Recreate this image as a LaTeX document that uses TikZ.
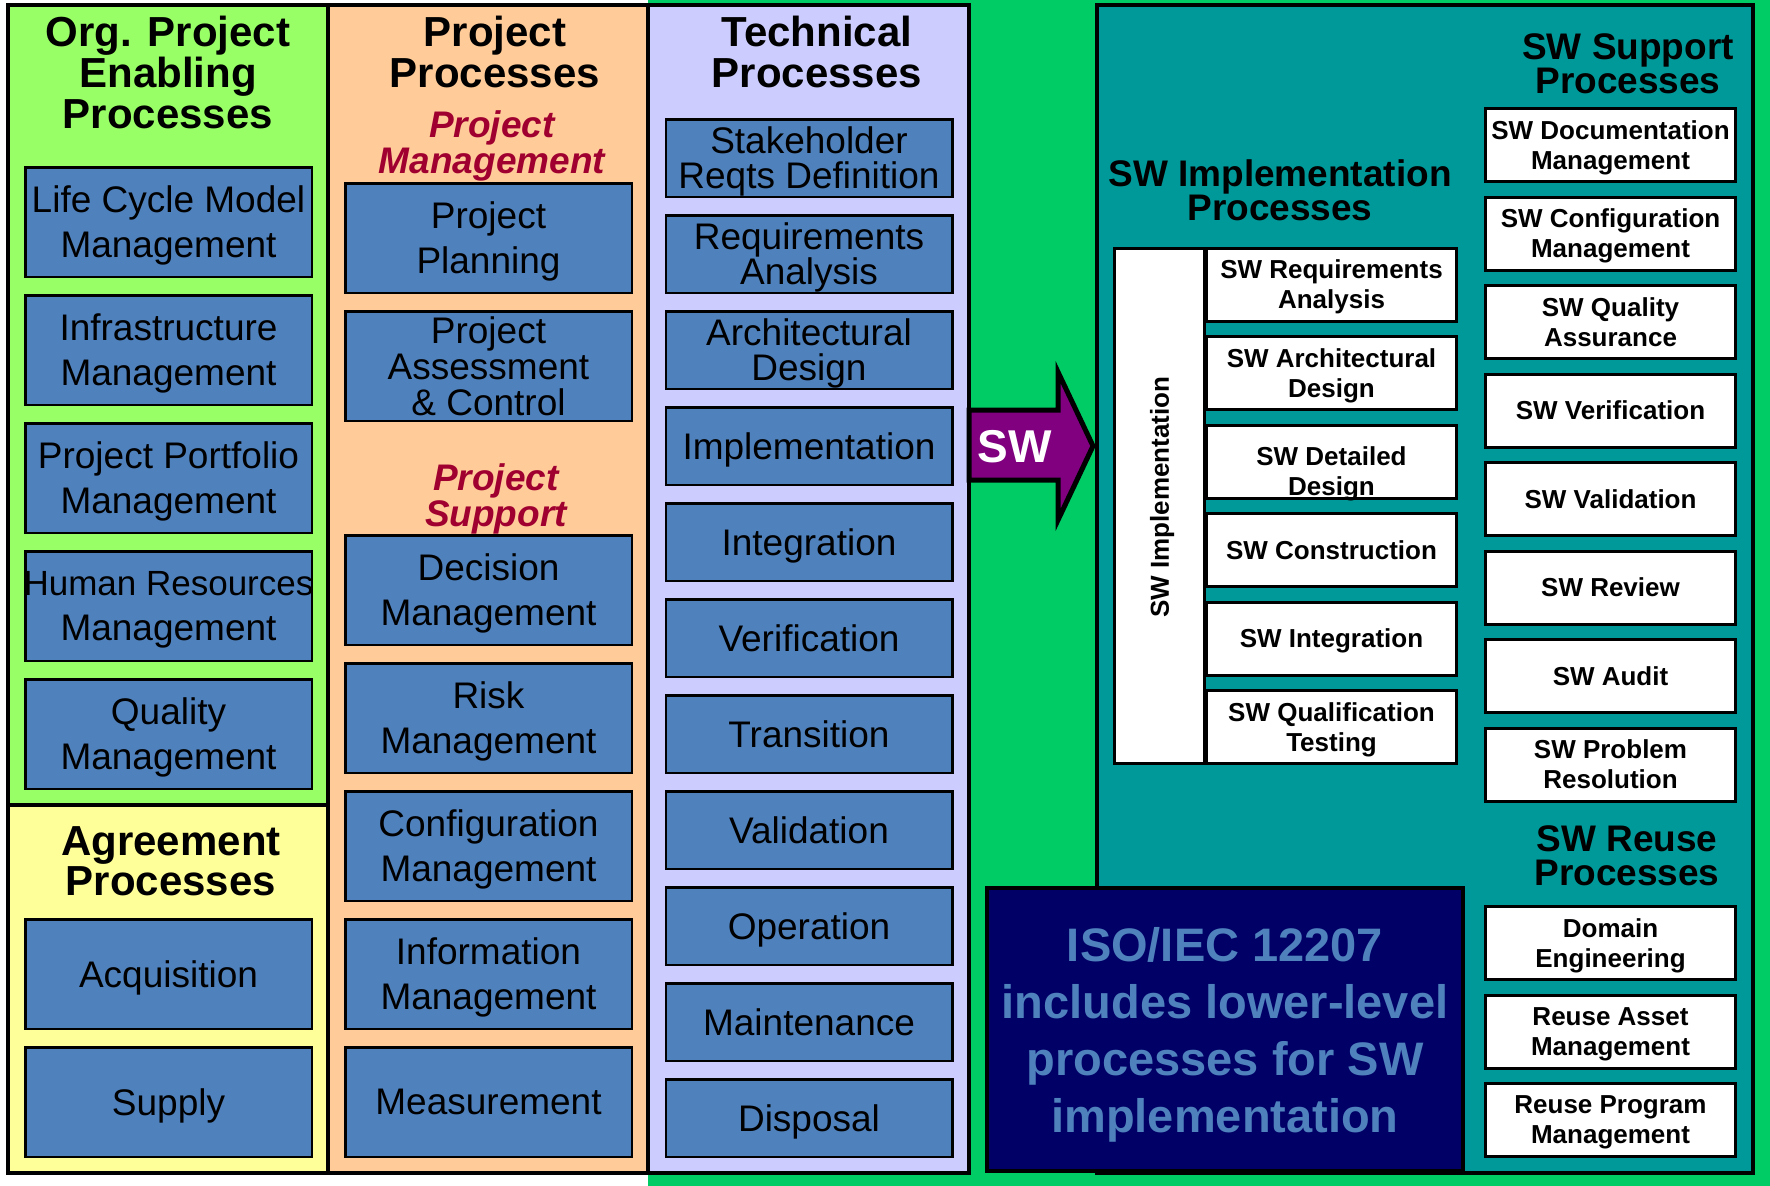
\documentclass[tikz,border=0pt]{standalone}
\usepackage{xcolor}
\usepackage{fontspec}
\setmainfont{Liberation Sans}
\usepackage{tikz}
\usetikzlibrary{positioning}

\definecolor{orggreen}{HTML}{99FF66}
\definecolor{agryellow}{HTML}{FFFF99}
\definecolor{projorange}{HTML}{FFCC99}
\definecolor{techlav}{HTML}{CCCCFF}
\definecolor{bggreen}{HTML}{00CC66}
\definecolor{swteal}{HTML}{009999}
\definecolor{isonavy}{HTML}{000066}
\definecolor{boxblue}{HTML}{4F81BD}
\definecolor{swpurple}{HTML}{800080}
\definecolor{pmred}{HTML}{A00030}

\begin{document}
\begin{tikzpicture}[
    x=1pt, y=-1pt,
    node distance=128pt,
    procbox/.style={rectangle, draw, fill=boxblue, line width=2.5pt, minimum width=286.5pt, minimum height=109.5pt, align=center, inner sep=0pt, text depth=0pt, font=\fontsize{37}{45}\selectfont},
    techbox/.style={procbox, minimum height=77.5pt, font=\fontsize{37}{35}\selectfont},
    swbox/.style={rectangle, draw, fill=white, line width=3pt, minimum width=250pt, minimum height=73pt, align=center, inner sep=0pt, text depth=0pt, font=\bfseries\fontsize{26}{30}\selectfont},
    heading/.style={align=center, inner sep=0pt, font=\bfseries\fontsize{42}{41}\selectfont},
    swheading/.style={heading, font=\bfseries\fontsize{37}{34}\selectfont},
    subheading/.style={heading, text=pmred, font=\bfseries\itshape\fontsize{37}{36}\selectfont},
    panel/.style={draw, line width=4pt}
]
\useasboundingbox (0,0) rectangle (1770,1186);

% Background
\fill [white] (0,0) rectangle (1770,1186);
\fill [bggreen] (648,0) rectangle (1770,1186);

% Panels
\path [panel, fill=orggreen] (8,5) rectangle (328,805);
\path [panel, fill=agryellow] (8,805) rectangle (328,1173);
\path [panel, fill=projorange] (328,5) rectangle (648,1173);
\path [panel, fill=techlav] (648,5) rectangle (969,1173);
\path [panel, fill=swteal] (1097,5) rectangle (1753,1173);

% Org. Project Enabling Processes
\node [heading] (orghead) at (168,72) {Org. Project\\Enabling\\Processes};
\node [procbox] (lcm) at (168.5,222) {Life Cycle Model\\Management};
\node [procbox, below of=lcm] (infra) {Infrastructure\\Management};
\node [procbox, below of=infra] (portfolio) {Project Portfolio\\Management};
\node [procbox, below of=portfolio] (hrm) {\makebox[0pt]{\fontsize{35}{45}\selectfont Human Resources}\\Management};
\node [procbox, below of=hrm] (qm) {Quality\\Management};

% Agreement Processes
\node [heading, font=\bfseries\fontsize{42}{40}\selectfont] (agrhead) at (171,861.5) {Agreement\\Processes};
\node [procbox] (acq) at (168.5,974) {Acquisition};
\node [procbox, below of=acq] (supply) {Supply};

% Project Processes
\node [heading] (projhead) at (495,52) {Project\\Processes};
\node [subheading] (pmhead) at (492,145.5) {Project\\Management};
\node [procbox] (planning) at (488.5,238) {Project\\Planning};
\node [procbox, below of=planning, font=\fontsize{37}{36}\selectfont] (pac) {Project\\Assessment\\\& Control};
\node [subheading] (pshead) at (496,498.5) {Project\\Support};
\node [procbox] (decision) at (488.5,590) {Decision\\Management};
\node [procbox, below of=decision] (risk) {Risk\\Management};
\node [procbox, below of=risk] (config) {Configuration\\Management};
\node [procbox, below of=config] (info) {Information\\Management};
\node [procbox, below of=info] (measure) {Measurement};

% Technical Processes
\node [heading] (techhead) at (817,51.5) {Technical\\Processes};
\begin{scope}[node distance=96pt]
\node [techbox] (srd) at (809,158) {Stakeholder\\Reqts Definition};
\node [techbox, below of=srd] (reqan) {Requirements\\Analysis};
\node [techbox, below of=reqan] (archd) {Architectural\\Design};
\node [techbox, below of=archd] (impl) {Implementation};
\node [techbox, below of=impl] (integ) {Integration};
\node [techbox, below of=integ] (verif) {Verification};
\node [techbox, below of=verif] (trans) {Transition};
\node [techbox, below of=trans] (valid) {Validation};
\node [techbox, below of=valid] (oper) {Operation};
\node [techbox, below of=oper] (maint) {Maintenance};
\node [techbox, below of=maint] (disp) {Disposal};
\end{scope}

% SW arrow
\draw [line width=5pt, fill=swpurple] (969,410) -- (1058,410) -- (1058,372) -- (1093,446) -- (1058,520) -- (1058,480) -- (969,480) -- cycle;
\node [text=white, font=\bfseries\fontsize{46}{46}\selectfont] (swtag) at (1015,447) {SW};

% SW Implementation Processes
\node [swheading] (implhead) at (1280,190) {SW Implementation\\Processes};
\node [swbox, rotate=90, minimum width=515pt, minimum height=90pt] (swimpl) at (1159.5,506) {\hspace*{18pt}SW Implementation};
\begin{scope}[node distance=88.5pt]
\node [swbox] (swreq) at (1331.5,284.5) {SW Requirements\\Analysis};
\node [swbox, below of=swreq] (swarch) {SW Architectural\\Design};
\node [swbox, below of=swarch] (swdet) {\rule{0pt}{37pt}SW Detailed\\Design};
\node [swbox, below of=swdet] (swcons) {SW Construction};
\node [swbox, below of=swcons] (swint) {SW Integration};
\node [swbox, below of=swint] (swqual) {SW Qualification\\Testing};

% SW Support Processes
\node [swheading] (supphead) at (1628,64) {SW Support\\Processes};
\node [swbox] (swdoc) at (1610.5,145) {SW Documentation\\Management};
\node [swbox, below of=swdoc] (swcm) {SW Configuration\\Management};
\node [swbox, below of=swcm] (swqa) {SW Quality\\Assurance};
\node [swbox, below of=swqa] (swver) {SW Verification};
\node [swbox, below of=swver] (swval) {SW Validation};
\node [swbox, below of=swval] (swrev) {SW Review};
\node [swbox, below of=swrev] (swaud) {SW Audit};
\node [swbox, below of=swaud] (swprob) {SW Problem\\Resolution};

% SW Reuse Processes
\node [swheading] (reusehead) at (1627,856) {SW Reuse\\Processes};
\node [swbox] (domain) at (1610.5,943) {Domain\\Engineering};
\node [swbox, below of=domain] (asset) {Reuse Asset\\Management};
\node [swbox, below of=asset] (program) {Reuse Program\\Management};
\end{scope}

% ISO/IEC 12207 note
\node [draw, line width=4pt, fill=isonavy, text=boxblue, minimum width=476pt, minimum height=283pt, align=center, inner sep=0pt, text depth=0pt, font=\bfseries\fontsize{47}{57}\selectfont] (iso) at (1225,1029.5) {ISO/IEC 12207\\includes lower-level\\processes for SW\\implementation};

\end{tikzpicture}
\end{document}
